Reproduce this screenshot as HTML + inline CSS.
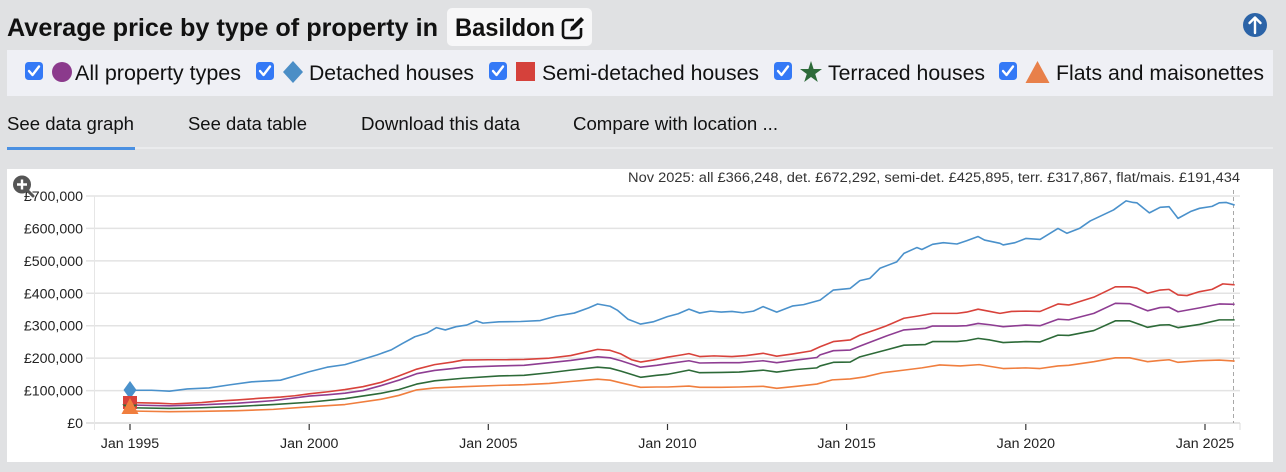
<!DOCTYPE html>
<html><head><meta charset="utf-8"><style>
html,body{margin:0;padding:0;background:#e0e1e3;}
svg{display:block;font-family:"Liberation Sans",Arial,sans-serif;}
</style></head><body>
<svg width="1286" height="472" viewBox="0 0 1286 472" xmlns="http://www.w3.org/2000/svg">
<rect x="0" y="0" width="1286" height="472" fill="#e0e1e3"/>
<!-- Title -->
<text x="7" y="36" font-size="25" font-weight="bold" fill="#111" textLength="431" lengthAdjust="spacingAndGlyphs">Average price by type of property in</text>
<rect x="447" y="8" width="145" height="38" rx="5" fill="#f7f7f8"/>
<text x="455" y="36" font-size="25" font-weight="bold" fill="#111" textLength="100" lengthAdjust="spacingAndGlyphs">Basildon</text>
<!-- edit icon -->
<path d="M574 20 H566 a3 3 0 0 0 -3 3 V35 a3 3 0 0 0 3 3 H578 a3 3 0 0 0 3 -3 V28" fill="none" stroke="#111" stroke-width="2.6"/>
<path d="M570 31 L571 27 L581 17 L584 20 L574 30 Z" fill="#111"/>
<!-- up arrow -->
<circle cx="1255" cy="25" r="12" fill="#2b63a7"/>
<path d="M1255 33 V18 M1249.5 23 L1255 17.5 L1260.5 23" fill="none" stroke="#fff" stroke-width="2.4" stroke-linecap="round" stroke-linejoin="round"/>
<!-- Legend bar -->
<rect x="7" y="50" width="1266" height="46" fill="#eff0f5"/>
<g>
<rect x="25" y="62" width="18" height="18" rx="3.5" fill="#3479f6"/>
<path d="M29 71 L32.5 75 L39 66.5" fill="none" stroke="#fff" stroke-width="2.4" stroke-linecap="round" stroke-linejoin="round"/>
<circle cx="62" cy="72" r="10" fill="#8b3a8c"/>
<text x="75" y="80" font-size="21.3" fill="#111" textLength="166" lengthAdjust="spacingAndGlyphs">All property types</text>

<rect x="256" y="62" width="18" height="18" rx="3.5" fill="#3479f6"/>
<path d="M260 71 L263.5 75 L270 66.5" fill="none" stroke="#fff" stroke-width="2.4" stroke-linecap="round" stroke-linejoin="round"/>
<path d="M293 61 L303 72 L293 83 L283 72 Z" fill="#4b8ec6"/>
<text x="309" y="80" font-size="21.3" fill="#111" textLength="165" lengthAdjust="spacingAndGlyphs">Detached houses</text>

<rect x="489" y="62" width="18" height="18" rx="3.5" fill="#3479f6"/>
<path d="M493 71 L496.5 75 L503 66.5" fill="none" stroke="#fff" stroke-width="2.4" stroke-linecap="round" stroke-linejoin="round"/>
<rect x="516" y="62" width="19" height="19" fill="#d5413b"/>
<text x="542" y="80" font-size="21.3" fill="#111" textLength="217" lengthAdjust="spacingAndGlyphs">Semi-detached houses</text>

<rect x="774" y="62" width="18" height="18" rx="3.5" fill="#3479f6"/>
<path d="M778 71 L781.5 75 L788 66.5" fill="none" stroke="#fff" stroke-width="2.4" stroke-linecap="round" stroke-linejoin="round"/>
<path d="M811,61 L813.6,69 L822,69 L815.2,74 L817.8,82 L811,77 L804.2,82 L806.8,74 L800,69 L808.4,69 Z" fill="#2e6b3a"/>
<text x="828" y="80" font-size="21.3" fill="#111" textLength="157" lengthAdjust="spacingAndGlyphs">Terraced houses</text>

<rect x="999" y="62" width="18" height="18" rx="3.5" fill="#3479f6"/>
<path d="M1003 71 L1006.5 75 L1013 66.5" fill="none" stroke="#fff" stroke-width="2.4" stroke-linecap="round" stroke-linejoin="round"/>
<path d="M1037.5 61 L1049.5 83 L1025.5 83 Z" fill="#e8804a"/>
<text x="1056" y="80" font-size="21.3" fill="#111" textLength="208" lengthAdjust="spacingAndGlyphs">Flats and maisonettes</text>
</g>
<!-- Tabs -->
<text x="7" y="130" font-size="18.5" fill="#111" textLength="127" lengthAdjust="spacingAndGlyphs">See data graph</text>
<text x="188" y="130" font-size="18.5" fill="#111" textLength="119" lengthAdjust="spacingAndGlyphs">See data table</text>
<text x="361" y="130" font-size="18.5" fill="#111" textLength="159" lengthAdjust="spacingAndGlyphs">Download this data</text>
<text x="573" y="130" font-size="18.5" fill="#111" textLength="205" lengthAdjust="spacingAndGlyphs">Compare with location ...</text>
<rect x="7" y="147" width="1266" height="2" fill="#eaebed"/>
<rect x="7" y="147" width="128" height="3" fill="#4a90e2"/>
<!-- Chart panel -->
<rect x="7" y="169" width="1266" height="293" fill="#ffffff"/>
<!-- grid -->
<g stroke="#e3e3e3" stroke-width="1.5">
<line x1="86" y1="196" x2="1240" y2="196"/>
<line x1="86" y1="228.4" x2="1240" y2="228.4"/>
<line x1="86" y1="260.9" x2="1240" y2="260.9"/>
<line x1="86" y1="293.3" x2="1240" y2="293.3"/>
<line x1="86" y1="325.7" x2="1240" y2="325.7"/>
<line x1="86" y1="358.1" x2="1240" y2="358.1"/>
<line x1="86" y1="390.6" x2="1240" y2="390.6"/>
</g>
<line x1="86" y1="423" x2="1240" y2="423" stroke="#dcdcdc" stroke-width="1.5"/>
<line x1="94.5" y1="196" x2="94.5" y2="430" stroke="#e6e6e6" stroke-width="1"/>
<g stroke="#333" stroke-width="1.2">
<line x1="130" y1="424" x2="130" y2="430"/>
<line x1="309.2" y1="424" x2="309.2" y2="430"/>
<line x1="488.3" y1="424" x2="488.3" y2="430"/>
<line x1="667.5" y1="424" x2="667.5" y2="430"/>
<line x1="846.6" y1="424" x2="846.6" y2="430"/>
<line x1="1025.8" y1="424" x2="1025.8" y2="430"/>
<line x1="1205" y1="424" x2="1205" y2="430"/>
</g>
<line x1="1240" y1="423" x2="1240" y2="430" stroke="#dcdcdc" stroke-width="1"/>
<g font-size="14.2" fill="#222" text-anchor="end">
<text x="83" y="201">£700,000</text>
<text x="83" y="233.4">£600,000</text>
<text x="83" y="265.9">£500,000</text>
<text x="83" y="298.3">£400,000</text>
<text x="83" y="330.7">£300,000</text>
<text x="83" y="363.1">£200,000</text>
<text x="83" y="395.6">£100,000</text>
<text x="83" y="428">£0</text>
</g>
<g font-size="14.2" fill="#222" text-anchor="middle">
<text x="130" y="448">Jan 1995</text>
<text x="309.2" y="448">Jan 2000</text>
<text x="488.3" y="448">Jan 2005</text>
<text x="667.5" y="448">Jan 2010</text>
<text x="846.6" y="448">Jan 2015</text>
<text x="1025.8" y="448">Jan 2020</text>
<text x="1205" y="448">Jan 2025</text>
</g>
<text x="628" y="182" font-size="13.5" fill="#333" textLength="612" lengthAdjust="spacingAndGlyphs">Nov 2025: all £366,248, det. £672,292, semi-det. £425,895, terr. £317,867, flat/mais. £191,434</text>
<line x1="1233.5" y1="190" x2="1233.5" y2="423" stroke="#a8a8a8" stroke-width="1" stroke-dasharray="4,3"/>
<!-- series -->
<g transform="translate(130,423) scale(35.83,-0.3243)" fill="none" stroke-width="1.6" stroke-linejoin="round">
<polyline vector-effect="non-scaling-stroke" stroke="#8e3d92" points="0,55.5 1.1,53 2,56 3,61 4,69 5,83 5.5,87 6,92 6.5,100 7,115 7.5,132 8,152 8.5,162 9,168 9.3,172 10.3,176 11,178 11.7,186 12.3,193 13.05,204 13.4,201 13.7,192 14.25,172 14.7,178 15,183 15.6,192 15.9,185 16.5,186 17,186 17.67,192 18.05,186 18.6,194 19.17,202 19.26,210 19.63,223 20.1,225 20.37,237 21.1,268 21.6,287 22.2,292 22.4,299 23.08,299 23.35,300 23.67,307 24,303 24.37,297 25,302 25.4,300 25.9,320 26.2,318 26.9,338 27.5,369 27.9,368 28.4,346 28.75,356 29,357 29.25,343 29.85,355 30.4,367 30.83,366"/>
<polyline vector-effect="non-scaling-stroke" stroke="#4a91cb" points="0,101 0.6,101 1.1,98 1.6,105 2.2,108 2.8,118 3.4,127 3.9,130 4.2,132 4.6,145 5,158 5.5,172 6,180 6.4,193 6.9,210 7.3,226 7.6,245 7.95,266 8.3,278 8.55,294 8.8,287 9.1,297 9.4,302 9.67,315 9.85,308 10.3,312 10.9,313 11.45,316 11.9,330 12.4,339 12.8,355 13.05,367 13.4,360 13.6,348 13.9,320 14.25,305 14.6,312 15,328 15.3,337 15.6,351 15.9,339 16.2,345 16.5,342 16.8,344 17.1,340 17.4,345 17.67,359 18.05,342 18.5,361 18.8,365 19.26,379 19.63,410 20.1,415 20.37,439 20.65,446 20.93,477 21.4,497 21.6,523 21.96,541 22.1,535 22.4,551 22.7,556 23.08,552 23.35,562 23.67,575 23.85,564 24.28,554 24.37,549 24.7,556 25,569 25.4,566 25.9,600 26.15,585 26.5,600 26.8,623 27.45,657 27.8,685 28,680 28.1,679 28.45,648 28.75,665 29,667 29.25,631 29.6,652 29.85,662 30.2,668 30.4,679 30.6,680 30.83,672"/>
<polyline vector-effect="non-scaling-stroke" stroke="#d8423b" points="0,63 0.8,61 1.2,59 2,63 2.5,68 3,71 3.6,76 4.2,80 4.6,84 5,90 5.5,96 6,103 6.5,112 7,125 7.5,145 8,166 8.5,180 9,188 9.3,194 10,195 10.5,195 11,196 11.7,200 12.3,208 13.05,227 13.4,224 13.7,213 14,195 14.25,188 14.6,194 15,203 15.4,210 15.6,214 15.9,205 16.3,207 16.8,205 17.2,208 17.67,215 18.05,206 18.5,213 19,222 19.26,235 19.63,251 20.1,256 20.37,271 20.8,287 21.1,299 21.6,323 22,330 22.4,338 22.7,338 23.08,338 23.35,342 23.67,351 24,344 24.28,338 24.6,344 25,345 25.4,344 25.9,367 26.2,364 26.9,388 27.5,420 27.9,420 28.1,416 28.4,400 28.75,410 29,412 29.25,395 29.5,393 29.85,405 30.2,412 30.5,429 30.83,426"/>
<polyline vector-effect="non-scaling-stroke" stroke="#2d6a38" points="0,47 1.1,45 2,47 3,51 4,57 5,64 6,75 7,91.5 7.5,103 8,120 8.5,130 9.3,138 10.3,145 11,147 11.7,155 12.3,163 13.05,172 13.4,169 13.7,160 14.25,141 14.7,147 15,150 15.6,163 15.9,155 16.5,156 17,157 17.67,163 18.05,157 18.6,165 19.17,170 19.26,176 19.63,187 20.1,188 20.37,204 21.1,225 21.6,240 22.2,242 22.4,251 23.08,251 23.35,254 23.67,261 24,256 24.37,248 25,251 25.4,250 25.9,271 26.2,270 26.9,285 27.5,315 27.9,315 28.4,295 28.75,302 29,303 29.25,294 29.85,304 30.4,318 30.83,318"/>
<polyline vector-effect="non-scaling-stroke" stroke="#f07e3e" points="0,37 1.1,35 2,36 3,38 4,42 5,50 6,57 7,73 7.5,85 8,102 8.5,108 9.3,112 10.3,116 11,118 11.7,122 12.3,128 13.05,135 13.4,132 13.7,124 14.25,110 14.7,111 15,111 15.6,114 15.9,110 16.5,110 17,111 17.67,113 18.05,107 18.6,113 19.17,120 19.6,133 20.1,136 20.5,142 21,155 21.6,163 22.1,170 22.6,179 23.17,176 23.7,180 24.37,168 25,170 25.4,168 25.9,176 26.2,178 26.9,189 27.5,201 27.9,201 28.4,189 28.75,193 29,195 29.25,187 29.85,192 30.4,194 30.83,191"/>
</g>
<!-- start markers -->
<circle cx="130" cy="405" r="6" fill="#8e3d92"/>
<path d="M130 381 L136.5 390 L130 399 L123.5 390 Z" fill="#4a91cb"/>
<rect x="123" y="396" width="14" height="13" fill="#d8423b"/>
<path d="M130,399 L132,404.5 L138,404.5 L133,408 L135,414 L130,410.5 L125,414 L127,408 L122,404.5 L128,404.5 Z" fill="#2d6a38"/>
<path d="M130 398 L138.5 414 L121.5 414 Z" fill="#f07e3e"/>
<!-- zoom icon -->
<line x1="27" y1="190" x2="33" y2="196" stroke="#555" stroke-width="3" stroke-linecap="round"/>
<circle cx="22" cy="184.5" r="9" fill="#555"/>
<path d="M22 179.5 V189.5 M17 184.5 H27" stroke="#fff" stroke-width="2.4"/>
</svg>
</body></html>
